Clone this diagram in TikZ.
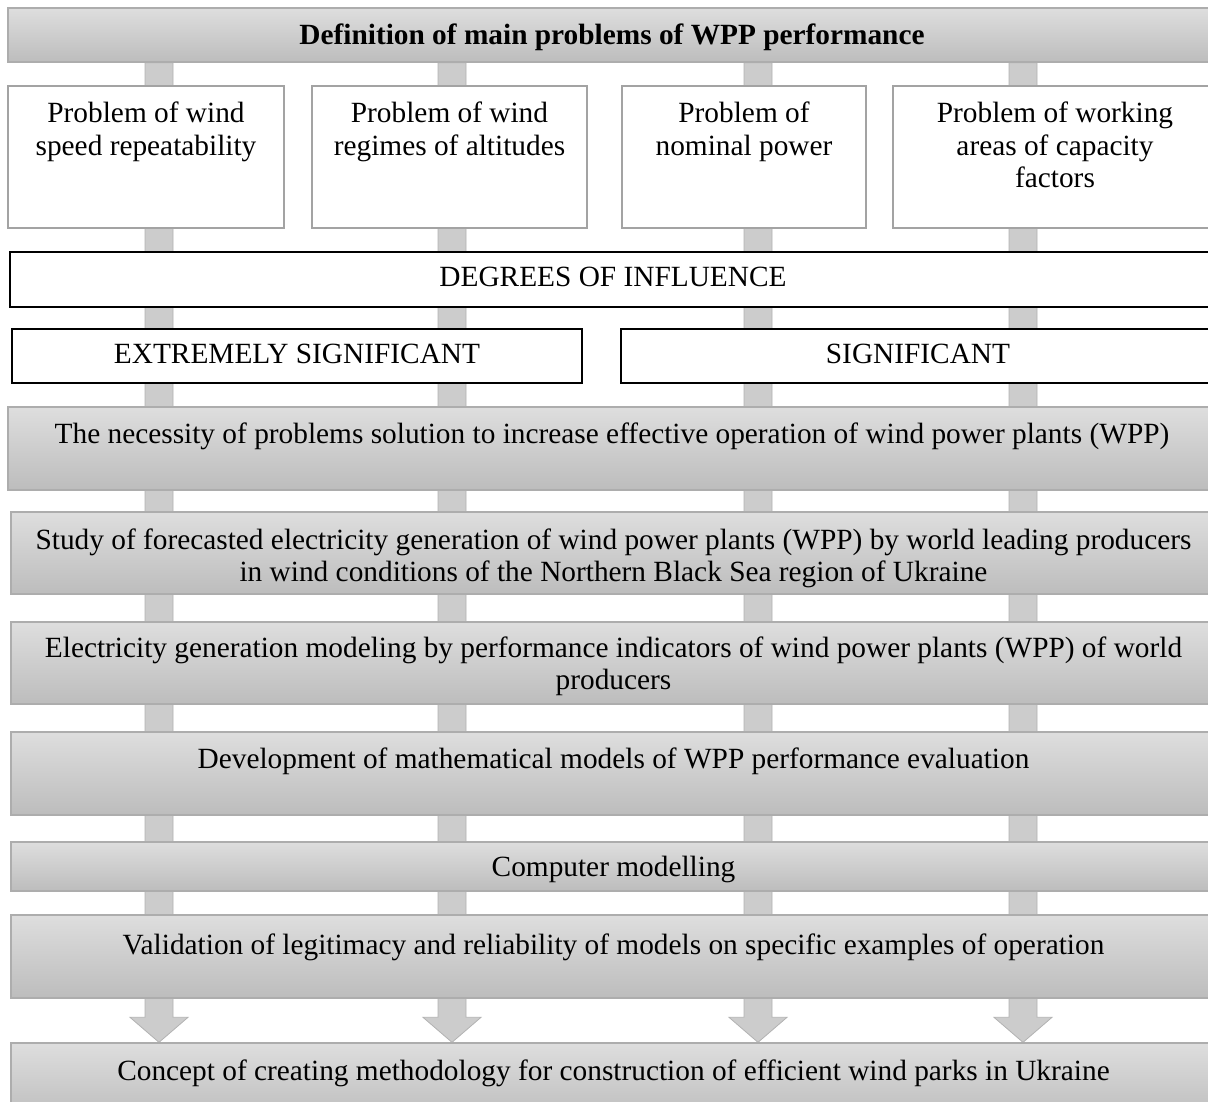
\documentclass[tikz,border=0pt]{standalone}
\usepackage{fontspec}
\setmainfont{Liberation Serif}
\usetikzlibrary{calc,fit,backgrounds}

\begin{document}
\begin{tikzpicture}[x=0.75pt,y=0.75pt,yscale=-1,xscale=1,
  every node/.style={font=\fontsize{22}{24.3}\selectfont},
  greybox/.style={draw=black!32, line width=1pt, top color=black!13, bottom color=black!26, inner sep=0pt},
  whitebox/.style={draw=black!36, line width=1.4pt, fill=white, inner sep=0pt},
  blackbox/.style={draw=black, line width=1.4pt, fill=white, inner sep=0pt},
  boxtext/.style={align=center, inner sep=0pt, anchor=north},
  bar/.style={draw=black!30, fill=black!20, line width=0.6pt}]
\useasboundingbox (0,0) rectangle (1208,1102);

%Shape: Rectangle
\node [greybox, fit={(8,8) (1216,62)}] (top) {};
% Text Node
\node [boxtext] (ttop) at ($(top.north)+(0,16)$) {\textbf{Definition of main problems of WPP performance}};

%Shape: Rectangle
\node [whitebox, fit={(8,86) (284,228)}] (p1) {};
\node [whitebox, fit={(312,86) (587,228)}] (p2) {};
\node [whitebox, fit={(622,86) (866,228)}] (p3) {};
\node [whitebox, fit={(893,86) (1217,228)}] (p4) {};
% Text Node
\node [boxtext] (tp1) at ($(p1.north)+(0,17)$) {Problem of wind\\speed repeatability};
% Text Node
\node [boxtext] (tp2) at ($(p2.north)+(0,17)$) {Problem of wind\\regimes of altitudes};
% Text Node
\node [boxtext] (tp3) at ($(p3.north)+(0,17)$) {Problem of\\nominal power};
% Text Node
\node [boxtext] (tp4) at ($(p4.north)+(0,17)$) {Problem of working\\areas of capacity\\factors};

%Shape: Rectangle
\node [blackbox, fit={(10,252) (1216,307)}] (deg) {};
% Text Node
\node [boxtext] (tdeg) at ($(deg.north)+(0,16)$) {DEGREES OF INFLUENCE};

%Shape: Rectangle
\node [blackbox, fit={(12,329) (582,383)}] (ext) {};
\node [blackbox, fit={(621,329) (1215,383)}] (sig) {};
% Text Node
\node [boxtext] (text) at ($(ext.north)+(0,16)$) {EXTREMELY SIGNIFICANT};
% Text Node
\node [boxtext] (tsig) at ($(sig.north)+(0,16)$) {SIGNIFICANT};

%Shape: Rectangle
\node [greybox, fit={(8,407) (1216,490)}] (nec) {};
\node [greybox, fit={(11,512) (1216,594)}] (study) {};
\node [greybox, fit={(11,622) (1216,704)}] (elec) {};
\node [greybox, fit={(11,732) (1216,815)}] (dev) {};
\node [greybox, fit={(11,842) (1216,891)}] (comp) {};
\node [greybox, fit={(11,915) (1216,998)}] (valid) {};
\node [greybox, fit={(11,1043) (1216,1120)}] (concept) {};

% Text Node
\node [boxtext] (tnec) at ($(nec.north)+(0,16)$) {The necessity of problems solution to increase effective operation of wind power plants (WPP)};
% Text Node
\node [boxtext] (tstudy) at ($(study.north)+(0,17)$) {Study of forecasted electricity generation of wind power plants (WPP) by world leading producers\\in wind conditions of the Northern Black Sea region of Ukraine};
% Text Node
\node [boxtext] (telec) at ($(elec.north)+(0,15)$) {Electricity generation modeling by performance indicators of wind power plants (WPP) of world\\producers};
% Text Node
\node [boxtext] (tdev) at ($(dev.north)+(0,16)$) {Development of mathematical models of WPP performance evaluation};
% Text Node
\node [boxtext] (tcomp) at ($(comp.north)+(0,15)$) {Computer modelling};
% Text Node
\node [boxtext] (tvalid) at ($(valid.north)+(0,19)$) {Validation of legitimacy and reliability of models on specific examples of operation};
% Text Node
\node [boxtext] (tconcept) at ($(concept.north)+(0,17)$) {Concept of creating methodology for construction of efficient wind parks in Ukraine};

%Columns with arrows
\coordinate (c1) at (159,0);
\coordinate (c2) at (452,0);
\coordinate (c3) at (758,0);
\coordinate (c4) at (1023,0);
\begin{scope}[on background layer]
\foreach \c in {c1,c2,c3,c4}
  \draw [bar] ($(top.south -| \c)+(-14,0)$) -- ($(top.south -| \c)+(14,0)$)
    -- ($(concept.north -| \c)+(14,-25)$) -- ($(concept.north -| \c)+(29,-25)$)
    -- (concept.north -| \c) -- ($(concept.north -| \c)+(-29,-25)$)
    -- ($(concept.north -| \c)+(-14,-25)$) -- cycle;
\end{scope}

\end{tikzpicture}
\end{document}
